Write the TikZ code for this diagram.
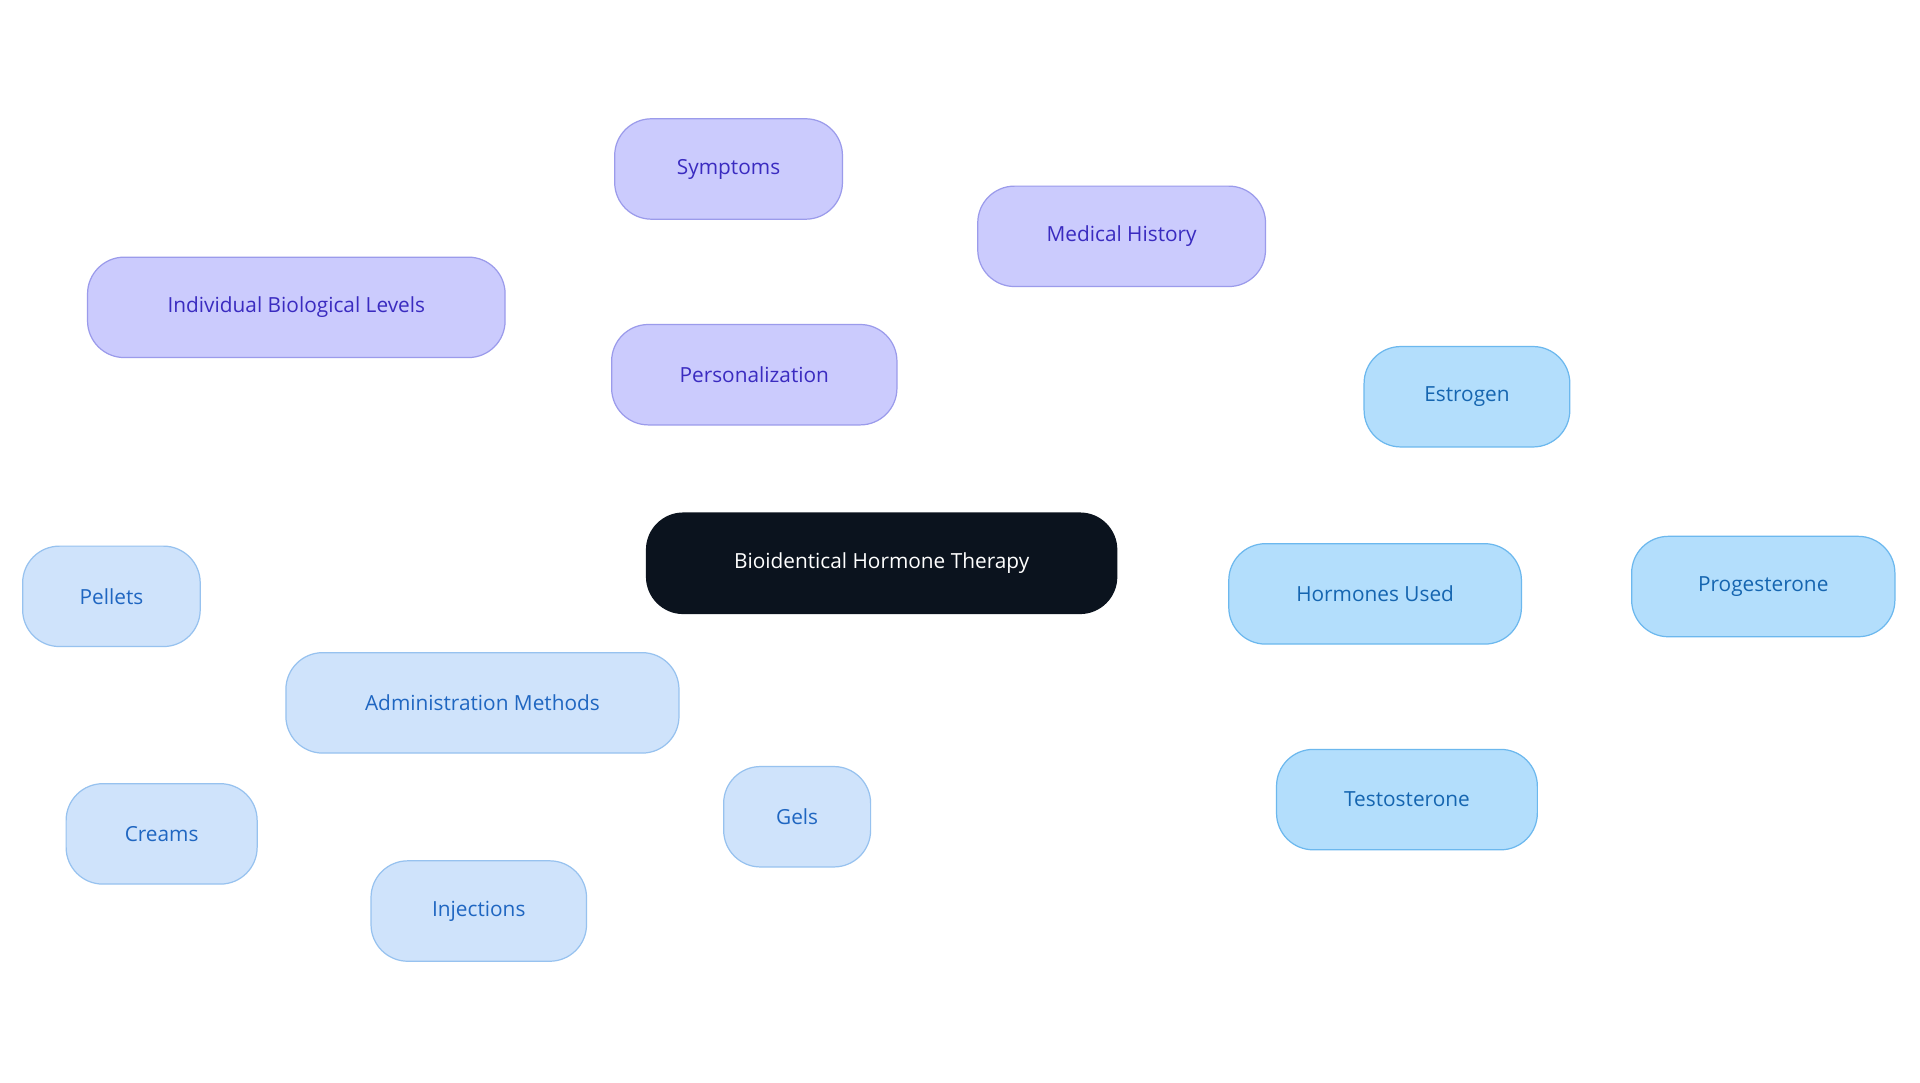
\documentclass[tikz,border=0pt]{standalone}
\usepackage{fontspec}
\setmainfont{Open Sans}
\usetikzlibrary{backgrounds}
\definecolor{cdark}{HTML}{0B131E}
\definecolor{pfill}{HTML}{CBCBFD}\definecolor{pline}{HTML}{9B9BEB}\definecolor{ptext}{HTML}{3A2BC0}
\definecolor{hfill}{HTML}{B3DEFC}\definecolor{hline}{HTML}{6CB8EE}\definecolor{htext}{HTML}{1565B0}
\definecolor{afill}{HTML}{CFE3FB}\definecolor{aline}{HTML}{97C2EF}\definecolor{atext}{HTML}{1F66C1}
\tikzset{
 box/.style={rounded corners=30pt, minimum height=82pt, inner sep=0pt, line width=1pt, font=\fontsize{17}{20}\selectfont},
 pbox/.style={box, fill=pfill, draw=pline, text=ptext},
 hbox/.style={box, fill=hfill, draw=hline, text=htext},
 abox/.style={box, fill=afill, draw=aline, text=atext},
 cbox/.style={box, fill=cdark, draw=cdark, text=white},
 pedge/.style={draw=pline, line width=2.5pt},
 hedge/.style={draw=hline, line width=2.5pt},
 aedge/.style={draw=aline, line width=2.5pt},
}
\begin{document}
\begin{tikzpicture}[x=1pt,y=-1pt]
\useasboundingbox[fill=white] (0,0) rectangle (1568,884);
\node[cbox, minimum width=384pt] (c) at (720,460) {Bioidentical Hormone Therapy};
\node[pbox, minimum width=233pt] (p) at (616,306) {Personalization};
\node[pbox, minimum width=186pt] (s) at (595,138) {Symptoms};
\node[pbox, minimum width=235pt] (m) at (916,193) {Medical History};
\node[pbox, minimum width=341pt] (i) at (242,251) {Individual Biological Levels};
\node[hbox, minimum width=239pt] (h) at (1123,485) {Hormones Used};
\node[hbox, minimum width=168pt] (e) at (1198,324) {Estrogen};
\node[hbox, minimum width=215pt] (pr) at (1440,479) {Progesterone};
\node[hbox, minimum width=213pt] (t) at (1149,653) {Testosterone};
\node[abox, minimum width=321pt] (a) at (394,574) {Administration Methods};
\node[abox, minimum width=145pt] (pl) at (91,487) {Pellets};
\node[abox, minimum width=156pt] (cr) at (132,681) {Creams};
\node[abox, minimum width=176pt] (in) at (391,744) {Injections};
\node[abox, minimum width=120pt] (g) at (651,667) {Gels};
\begin{scope}[on background layer]
\draw[pedge] (c.center) -- (p.center);
\draw[pedge] (p.center) -- (s.center);
\draw[pedge] (p.center) -- (m.center);
\draw[pedge] (p.center) -- (i.center);
\draw[hedge] (c.center) -- (h.center);
\draw[hedge] (h.center) -- (e.center);
\draw[hedge] (h.center) -- (pr.center);
\draw[hedge] (h.center) -- (t.center);
\draw[aedge] (c.center) -- (a.center);
\draw[aedge] (a.center) -- (pl.center);
\draw[aedge] (a.center) -- (cr.center);
\draw[aedge] (a.center) -- (in.center);
\draw[aedge] (a.center) -- (g.center);
\end{scope}
\end{tikzpicture}
\end{document}
